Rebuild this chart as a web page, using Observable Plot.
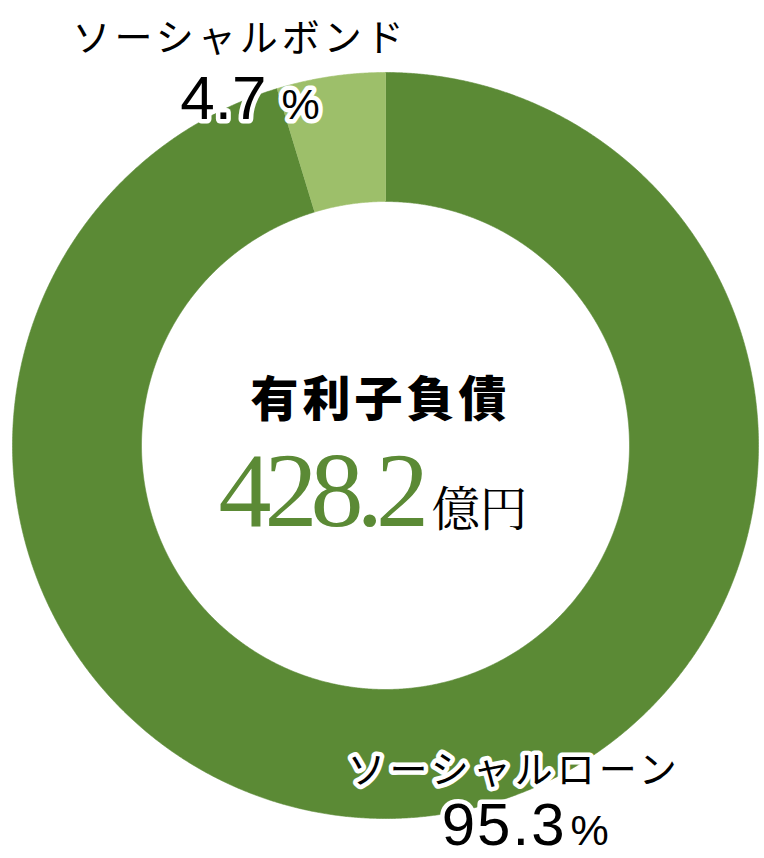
<!DOCTYPE html>
<html><head><meta charset="utf-8">
<script src="https://cdn.jsdelivr.net/npm/d3@7"></script>
<script src="https://cdn.jsdelivr.net/npm/@observablehq/plot@0.6"></script>
<style>html,body{margin:0;padding:0;background:#fff}#chart svg{display:block}</style>
</head><body><div id="chart"></div>
<script>
// ---- data ----
const segments = ["ソーシャルローン", "ソーシャルボンド"];
const shares = [95.3, 4.7];
const segmentColors = ["#5b8a35", "#9dbf6a"];
const centerTitle = "有利子負債";
const totalValue = 428.2;
const totalUnit = "億円";
const pctUnit = "%";

// ---- layout ----
const W = 764, H = 858, CX = 385, CY = 445, R_OUT = 373, R_IN = 244;
const pie = d3.pie().sort(null).value(d => d.share);
const slices = pie(segments.map((name, i) => ({name, share: shares[i]})));
const pts = [];
for (const s of slices) {
  const span = s.endAngle - s.startAngle;
  const n = Math.max(8, Math.ceil(span / 0.004));
  const ring = [];
  for (let k = 0; k <= n; k++) ring.push([R_OUT, s.startAngle + span * k / n]);
  for (let k = n; k >= 0; k--) ring.push([R_IN, s.startAngle + span * k / n]);
  ring.forEach(([r, a]) => pts.push({name: s.data.name, x: r * Math.sin(a), y: -r * Math.cos(a)}));
}

const jp = "Noto Sans CJK JP";
const num = "Liberation Sans";
const serif = "Liberation Serif";
const mincho = "Noto Serif CJK JP";
const halo = {stroke: "white", strokeWidth: 9, strokeLinejoin: "round"};
const fmt = v => v.toFixed(1);

const T = (text, px, py, opts) => Plot.text([text], {
  x: () => px - CX, y: () => py - CY, text: d => d, lineAnchor: "bottom", ...opts
});

const svg = Plot.plot({
  width: W, height: H,
  margin: 0,
  x: {domain: [-CX, W - CX], range: [0, W], axis: null},
  y: {domain: [-CY, H - CY], range: [0, H], axis: null},
  color: {domain: segments, range: segmentColors},
  marks: [
    Plot.line(pts, {x: "x", y: "y", z: "name", fill: "name", stroke: "name", strokeWidth: 0.6, curve: "linear"}),
    // bond label
    T(segments[1], 72, 50, {textAnchor: "start", fill: "black", fontFamily: jp, fontSize: 38, ...halo}),
    T(fmt(shares[1]), 266, 118, {textAnchor: "end", fill: "black", fontFamily: num, fontSize: 62, ...halo}),
    // loan label
    T(segments[0], 347, 782, {textAnchor: "start", fill: "black", fontFamily: jp, fontSize: 38, ...halo}),
    T(fmt(shares[0]), 566, 844, {textAnchor: "end", fill: "black", fontFamily: num, fontSize: 60, ...halo}),
    // percent signs
    Plot.text([pctUnit, pctUnit], {
      x: [281 - CX, 570 - CX], y: [118 - CY, 844 - CY], text: d => d, lineAnchor: "bottom",
      textAnchor: "start", fill: "black", fontFamily: num, fontSize: 43, ...halo
    }),
    // center
    T(centerTitle, 250, 415, {textAnchor: "start", fill: "black", fontFamily: jp, fontSize: 48, fontWeight: 900}),
    T(fmt(totalValue), 218, 525, {textAnchor: "start", fill: segmentColors[0], fontFamily: serif, fontSize: 106}),
    T(totalUnit, 431, 525, {textAnchor: "start", fill: "black", fontFamily: mincho, fontSize: 48})
  ]
});

const spacing = {};
spacing[segments[0]] = "4px";
spacing[segments[1]] = "4px";
spacing[centerTitle] = "4px";
spacing[fmt(totalValue)] = "-7px";
spacing[fmt(shares[0])] = "2px";
d3.select(svg).selectAll("text").each(function () {
  const t = this.textContent;
  if (spacing[t]) this.setAttribute("letter-spacing", spacing[t]);
});
document.getElementById("chart").appendChild(svg);
</script>
</body></html>
